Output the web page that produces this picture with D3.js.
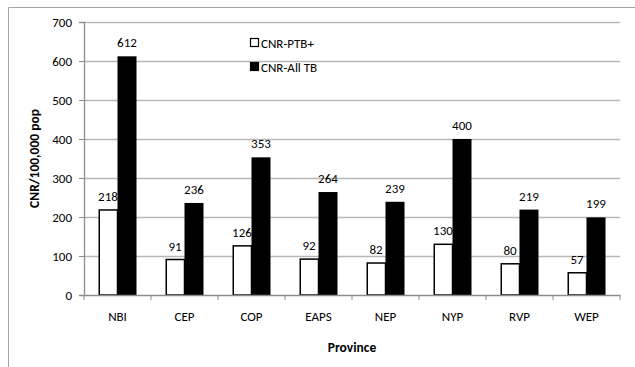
<!DOCTYPE html>
<html>
<head>
<meta charset="utf-8">
<script src="https://cdn.jsdelivr.net/npm/d3@7"></script>
<style>
  html, body { margin: 0; padding: 0; background: #fff; }
  svg { display: block; }
  text { font-family: Carlito, Calibri, Lato, sans-serif; fill: #000; }
</style>
</head>
<body>
<svg id="chart" width="635" height="367"></svg>
<script>
// Case notification rates per 100,000 population, by province
const provinces = ["NBI", "CEP", "COP", "EAPS", "NEP", "NYP", "RVP", "WEP"];
const ptbPositive = [218, 91, 126, 92, 82, 130, 80, 57];
const allTB = [612, 236, 353, 264, 239, 400, 219, 199];
const seriesNames = ["CNR-PTB+", "CNR-All TB"];
const yTicks = [0, 100, 200, 300, 400, 500, 600, 700];

const svg = d3.select("#chart");
const margin = { left: 84, right: 15, top: 22, bottom: 72 };
const W = 635, H = 367;
const fs = 13;

// outer frame (top and left edges visible)
svg.append("line").attr("x1", 8.5).attr("x2", W).attr("y1", 7.5).attr("y2", 7.5)
  .attr("stroke", "#a6a6a6").attr("stroke-width", 1);
svg.append("line").attr("x1", 8.5).attr("x2", 8.5).attr("y1", 7.5).attr("y2", H)
  .attr("stroke", "#a6a6a6").attr("stroke-width", 1);

const x = d3.scaleBand().domain(provinces)
  .range([margin.left, W - margin.right]).paddingInner(0).paddingOuter(0);
const y = d3.scaleLinear().domain([0, 700]).range([H - margin.bottom, margin.top]);

const groupW = 38;
const sub = d3.scaleBand().domain([0, 1])
  .range([(x.bandwidth() - groupW) / 2, (x.bandwidth() + groupW) / 2]);

// gridlines
svg.append("g").selectAll("line").data(yTicks.filter(d => d > 0)).join("line")
  .attr("x1", margin.left).attr("x2", W - margin.right)
  .attr("y1", d => Math.round(y(d)) + 0.5).attr("y2", d => Math.round(y(d)) + 0.5)
  .attr("stroke", "#b8b8b8").attr("stroke-width", 1.4);

// y axis
const yAxis = d3.axisLeft(y).tickValues(yTicks).tickSize(5).tickPadding(7);
const gy = svg.append("g").attr("transform", `translate(${margin.left},0)`).call(yAxis);
gy.select(".domain").attr("stroke", "#8c8c8c").attr("stroke-width", 1.3);
gy.selectAll(".tick line").attr("stroke", "#8c8c8c");
gy.selectAll(".tick text").attr("font-size", fs).attr("font-family", null);

// bars
const data = provinces.map((p, i) => ({ p, vals: [ptbPositive[i], allTB[i]] }));
const groups = svg.append("g").selectAll("g").data(data).join("g")
  .attr("transform", d => `translate(${x(d.p)},0)`);

groups.selectAll("rect").data(d => d.vals.map((v, k) => ({ v, k }))).join("rect")
  .attr("x", d => sub(d.k) + (d.k === 0 ? 0.75 : 0))
  .attr("width", d => sub.bandwidth() - (d.k === 0 ? 0.75 : 0))
  .attr("y", d => y(d.v))
  .attr("height", d => y(0) - y(d.v))
  .attr("fill", d => d.k === 0 ? "#fff" : "#000")
  .attr("stroke", d => d.k === 0 ? "#000" : "none")
  .attr("stroke-width", 1.5);

// value labels
groups.selectAll("text.val").data(d => d.vals.map((v, k) => ({ v, k }))).join("text")
  .attr("class", "val")
  .attr("x", d => sub(d.k) + sub.bandwidth() / 2)
  .attr("y", d => y(d.v) - 9)
  .attr("text-anchor", "middle")
  .attr("font-size", fs)
  .text(d => d.v);

// x axis
const xAxis = d3.axisBottom(x).tickSize(0).tickPadding(17);
const gx = svg.append("g").attr("transform", `translate(0,${y(0)})`).call(xAxis);
gx.select(".domain").attr("stroke", "#8c8c8c").attr("stroke-width", 1.3);
gx.selectAll(".tick text").attr("font-size", fs).attr("font-family", null);
// boundary tick marks between categories
svg.append("g").selectAll("line")
  .data(provinces.map(p => x(p)).concat([x.range()[1]])).join("line")
  .attr("x1", d => d).attr("x2", d => d)
  .attr("y1", y(0)).attr("y2", y(0) + 5)
  .attr("stroke", "#8c8c8c").attr("stroke-width", 1);

// axis titles
svg.append("text")
  .attr("transform", `translate(39,${(y(0) + y(700)) / 2}) rotate(-90)`)
  .attr("text-anchor", "middle").attr("font-size", 13.5).attr("font-weight", "bold")
  .text("CNR/100,000 pop");
svg.append("text")
  .attr("x", (x.range()[0] + x.range()[1]) / 2).attr("y", 352)
  .attr("text-anchor", "middle").attr("font-size", 13.5).attr("font-weight", "bold")
  .text("Province");

// legend
const legend = svg.append("g").attr("transform", "translate(250,38)");
seriesNames.forEach((name, i) => {
  const g = legend.append("g").attr("transform", `translate(0,${i * 24})`);
  g.append("rect").attr("x", 0.5).attr("y", 0.5).attr("width", 8).attr("height", 8)
    .attr("fill", i === 0 ? "#fff" : "#000").attr("stroke", "#000").attr("stroke-width", 1.2);
  g.append("text").attr("x", 11).attr("y", 9.5).attr("font-size", fs).text(name);
});
</script>
</body>
</html>
